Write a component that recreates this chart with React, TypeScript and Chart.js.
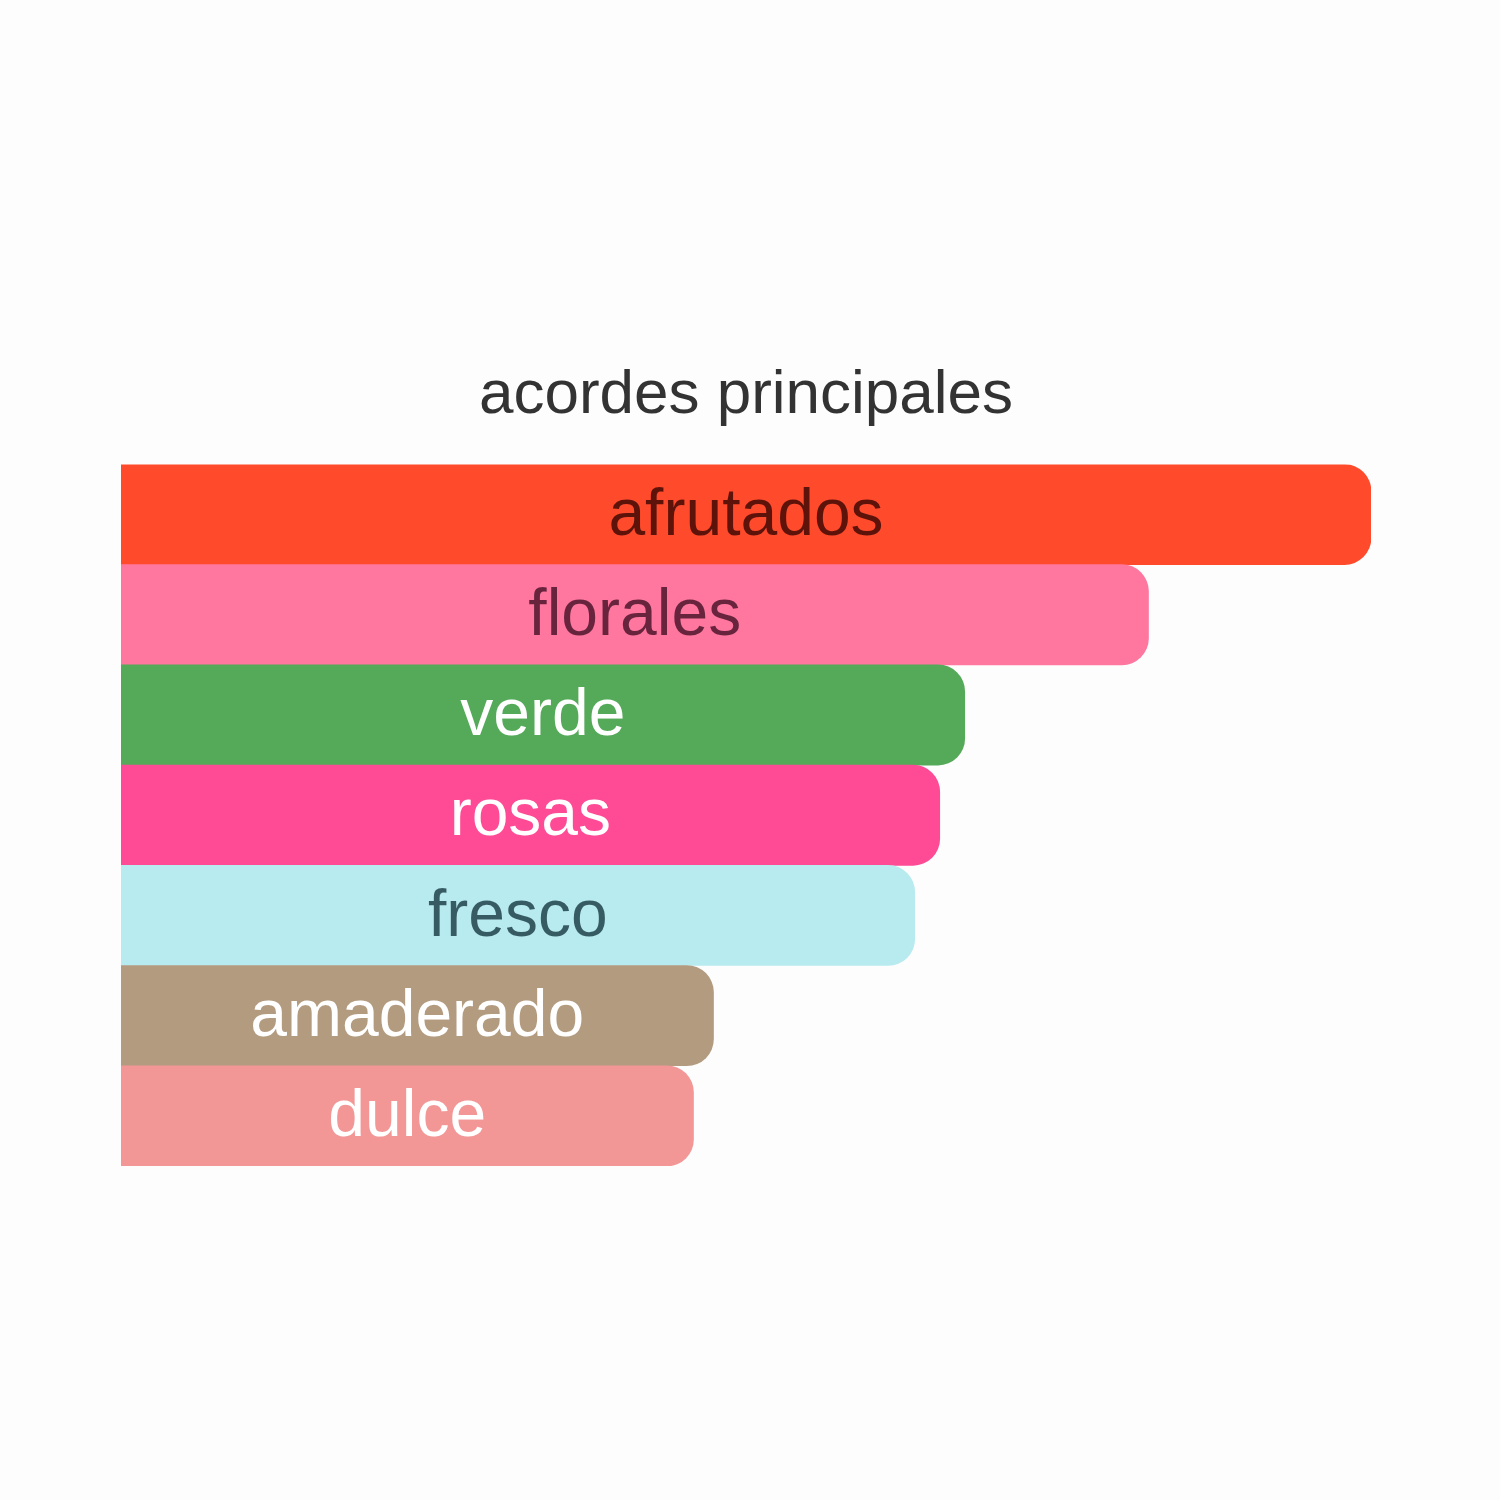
import Chart from "chart.js/auto";
import { useEffect, useRef } from "react";

const accordLabels = ["afrutados", "florales", "verde", "rosas", "fresco", "amaderado", "dulce"];
const accordValues = [100, 82.2, 67.5, 65.5, 63.5, 47.4, 45.8];
const barColors = ["#FF4B2B", "#FF779F", "#55AA5A", "#FF4A96", "#B7EBEF", "#B39B80", "#F39696"];
const labelColors = [
  "rgba(40,0,0,0.75)",
  "rgba(40,0,20,0.7)",
  "#ffffff",
  "#ffffff",
  "rgba(0,30,40,0.7)",
  "#ffffff",
  "#ffffff",
];

// draws each accord name centered inside its bar
const barTextPlugin = {
  id: "barText",
  afterDatasetsDraw(chart: any) {
    const ctx = chart.ctx;
    const meta = chart.getDatasetMeta(0);
    ctx.save();
    ctx.font = "66px 'Liberation Sans', Arial, sans-serif";
    ctx.textAlign = "center";
    ctx.textBaseline = "middle";
    meta.data.forEach((bar: any, i: number) => {
      ctx.fillStyle = labelColors[i];
      ctx.fillText(chart.data.labels[i], (bar.x + bar.base) / 2, bar.y + 2);
    });
    ctx.restore();
  },
};

export default function App() {
  const chartRef = useRef<HTMLCanvasElement | null>(null);
  const chartInstance = useRef<Chart | null>(null);

  useEffect(() => {
    document.body.style.margin = "0";
    document.body.style.background = "#fefdfd";
    if (chartRef.current) {
      const ctx = chartRef.current.getContext("2d");
      if (ctx) {
        chartInstance.current = new Chart(ctx, {
          type: "bar",
          data: {
            labels: accordLabels,
            datasets: [
              {
                data: accordValues,
                backgroundColor: barColors,
                borderWidth: 0,
                borderRadius: 27,
                barPercentage: 1,
                categoryPercentage: 1,
              },
            ],
          },
          options: {
            indexAxis: "y",
            responsive: false,
            devicePixelRatio: 1,
            animation: false,
            layout: {
              padding: { top: 359, bottom: 334, left: 121, right: 129 },
            },
            scales: {
              x: { display: false, min: 0, max: 100 },
              y: { display: false },
            },
            plugins: {
              legend: { display: false },
              tooltip: { enabled: false },
              title: {
                display: true,
                text: "acordes principales",
                color: "#333333",
                font: { size: 62, family: "'Liberation Sans', Arial, sans-serif", weight: "normal" },
                padding: { top: 0, bottom: 31 },
              },
            },
          },
          plugins: [barTextPlugin],
        });
      }
    }
    return () => {
      if (chartInstance.current) {
        chartInstance.current.destroy();
      }
    };
  }, []);

  return (
    <div style={{ width: 1500, height: 1500 }}>
      <canvas ref={chartRef} width={1500} height={1500} />
    </div>
  );
}
